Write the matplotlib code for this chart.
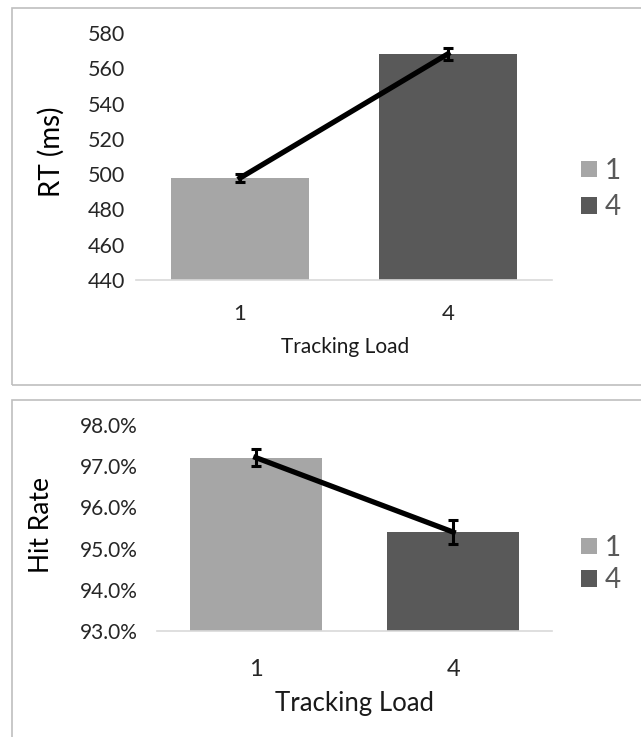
import matplotlib
matplotlib.use("Agg")
import matplotlib.pyplot as plt
from matplotlib.patches import Rectangle, Patch
from matplotlib.ticker import FuncFormatter

# ---- data ----
categories = ["1", "4"]
rt_values = [497.8, 568.2]
rt_err = [2.5, 3.3]
rt_ticks = [440, 460, 480, 500, 520, 540, 560, 580]

hit_values = [97.21, 95.40]
hit_err = [0.20, 0.30]
hit_ticks = [93.0, 94.0, 95.0, 96.0, 97.0, 98.0]

bar_colors = ["#a6a6a6", "#595959"]
W, H = 641, 737
plt.rcParams['font.family'] = ['Lato', 'DejaVu Sans']

fig = plt.figure(figsize=(W / 100, H / 100), dpi=100)

def fx(px):
    return px / W

def fy(py):
    return 1 - py / H

# panel frames
fig.patches.append(Rectangle((fx(12), fy(385)), fx(700), fy(8) - fy(385),
                             transform=fig.transFigure, fill=False,
                             edgecolor="#bfbfbf", lw=1.2))
fig.patches.append(Rectangle((fx(12), fy(760)), fx(700), fy(400) - fy(760),
                             transform=fig.transFigure, fill=False,
                             edgecolor="#bfbfbf", lw=1.2))

def draw(ax, values, err, ticks, ylabel, tick_fmt, tick_fs, xt_fs, xl_fs, yl_fs,
         ylab_pos, xlab_pos, leg_y, leg_spacing, xpad, ypad):
    x = list(range(len(categories)))
    ax.bar(x, values, width=0.667, color=bar_colors, zorder=1)
    ax.plot(x, values, color="black", lw=3.8, zorder=3)
    ax.errorbar(x, values, yerr=err, fmt="none", ecolor="black",
                elinewidth=2.2, capsize=3.5, capthick=2.2, zorder=4)
    ax.set_xlim(-0.5, 1.5)
    ax.set_ylim(ticks[0], ticks[-1])
    ax.set_yticks(ticks)
    ax.yaxis.set_major_formatter(FuncFormatter(tick_fmt))
    ax.set_xticks(x)
    ax.set_xticklabels(categories)
    for s in ["top", "right", "left"]:
        ax.spines[s].set_visible(False)
    ax.spines["bottom"].set_color("#d9d9d9")
    ax.spines["bottom"].set_linewidth(1.2)
    ax.tick_params(axis="both", length=0, colors="#262626")
    ax.tick_params(axis="y", labelsize=tick_fs, pad=ypad)
    ax.tick_params(axis="x", labelsize=xt_fs, pad=xpad)
    ax.set_ylabel(ylabel, fontsize=yl_fs, color="#000000")
    ax.yaxis.set_label_coords(*ylab_pos)
    ax.set_xlabel("Tracking Load", fontsize=xl_fs, color="#1a1a1a")
    ax.xaxis.set_label_coords(*xlab_pos)
    handles = [Patch(facecolor=c, edgecolor="none") for c in bar_colors]
    leg = fig.legend(handles, categories, loc="center left",
                     bbox_to_anchor=(fx(562), fy(leg_y)), frameon=False,
                     fontsize=20, handlelength=0.55, handleheight=0.55,
                     handletextpad=0.3, labelspacing=leg_spacing,
                     borderpad=0.2)
    for t in leg.get_texts():
        t.set_color("#595959")

ax1 = fig.add_axes([fx(136), fy(280), fx(552) - fx(136), fy(33) - fy(280)])
draw(ax1, rt_values, rt_err, rt_ticks, "RT (ms)",
     lambda v, p: f"{v:.0f}", 15.5, 16, 15, 20,
     (-0.172, 0.52), (0.502, -0.232), 189, 0.37, 17, 8)

ax2 = fig.add_axes([fx(157), fy(631), fx(552) - fx(157), fy(425) - fy(631)])
draw(ax2, hit_values, hit_err, hit_ticks, "Hit Rate",
     lambda v, p: f"{v:.1f}%", 15, 17, 18.5, 19,
     (-0.262, 0.515), (0.50, -0.292), 564, 0.22, 20, 14)

fig.savefig("out.png", dpi=100, facecolor="white")
